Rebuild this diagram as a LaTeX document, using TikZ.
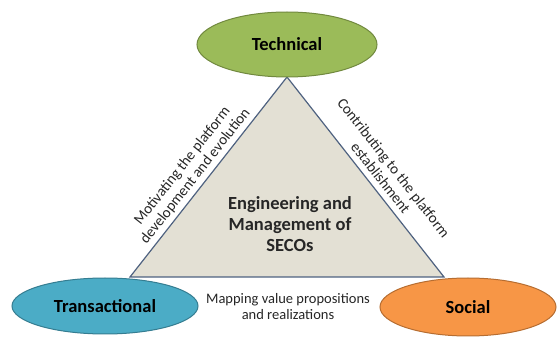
\documentclass[tikz,border=0pt]{standalone}
\usepackage{fontspec}
\setmainfont{Carlito}
\usetikzlibrary{shapes.geometric}
\definecolor{techfill}{HTML}{9BBB59}
\definecolor{techline}{HTML}{71893F}
\definecolor{transfill}{HTML}{4BACC6}
\definecolor{transline}{HTML}{357D91}
\definecolor{socfill}{HTML}{F79646}
\definecolor{socline}{HTML}{B66D31}
\definecolor{trifill}{HTML}{E3E0D4}
\definecolor{triline}{HTML}{4F6280}
\definecolor{txt}{HTML}{262626}
\tikzset{
  blob/.style={ellipse, draw, line width=1pt, inner sep=0pt, font=\fontsize{18.5}{20}\selectfont\bfseries, text=black},
  edgelabel/.style={sloped, align=center, font=\fontsize{15}{16.5}\selectfont, text=txt, inner sep=2pt},
}
\begin{document}
\begin{tikzpicture}[x=1pt,y=-1pt]
\useasboundingbox (0,0) rectangle (558,342);
\coordinate (A) at (287,77);
\coordinate (L) at (130,277);
\coordinate (R) at (444,277);
\filldraw[fill=trifill, draw=triline, line width=1.2pt] (L) -- (A) -- (R) -- cycle;
\path (L) -- node[edgelabel, above=2pt, pos=0.47]{Motivating the platform\\development and evolution} (A);
\path (A) -- node[edgelabel, above=4pt, pos=0.54]{Contributing to the platform\\establishment} (R);
\node[font=\fontsize{18.5}{21}\selectfont\bfseries, align=center, text=txt] (center) at (290,224) {Engineering and\\Management of\\SECOs};
\node[blob, fill=techfill, draw=techline, minimum width=180pt, minimum height=65pt] (tech) at (287,44.5) {Technical};
\node[blob, fill=transfill, draw=transline, minimum width=186pt, minimum height=56pt] (trans) at (105,306) {Transactional};
\node[blob, fill=socfill, draw=socline, minimum width=176pt, minimum height=58pt] (soc) at (468,307) {Social};
\node[align=center, font=\fontsize{14.5}{16}\selectfont, text=txt] (map) at (288,307) {Mapping value propositions\\and realizations};
\end{tikzpicture}
\end{document}
